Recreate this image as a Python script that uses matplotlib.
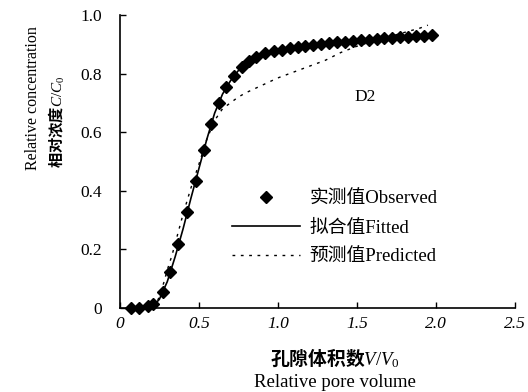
import matplotlib
matplotlib.use("Agg")
import matplotlib.pyplot as plt
from matplotlib.lines import Line2D

plt.rcParams['font.family'] = ['Liberation Serif', 'Noto Sans CJK SC', 'DejaVu Sans']
plt.rcParams['mathtext.fontset'] = 'custom'
plt.rcParams['mathtext.rm'] = 'Liberation Serif'
plt.rcParams['mathtext.it'] = 'Liberation Serif:italic'

# observed breakthrough data (relative pore volume, relative concentration)
obs_x = [0.07, 0.12, 0.175, 0.21, 0.27, 0.32, 0.37, 0.425, 0.48, 0.535, 0.575, 0.625,
         0.675, 0.725, 0.775, 0.82, 0.86, 0.92, 0.975, 1.025, 1.075, 1.125, 1.175,
         1.225, 1.275, 1.325, 1.375, 1.425, 1.475, 1.525, 1.575, 1.625, 1.675, 1.725,
         1.775, 1.825, 1.875, 1.925, 1.975]
obs_y = [0.0, 0.0, 0.008, 0.015, 0.056, 0.124, 0.218, 0.327, 0.434, 0.538, 0.629, 0.70,
         0.753, 0.793, 0.823, 0.842, 0.857, 0.871, 0.876, 0.880, 0.886, 0.892, 0.895,
         0.898, 0.901, 0.904, 0.906, 0.909, 0.911, 0.914, 0.916, 0.918, 0.920, 0.922,
         0.924, 0.926, 0.927, 0.929, 0.931]

fit_x = [0.2, 0.25, 0.3, 0.35, 0.4, 0.45, 0.5, 0.55, 0.6, 0.65, 0.7, 0.75, 0.8, 0.85,
         0.9, 0.95, 1.0, 1.1, 1.2, 1.4, 1.6, 1.8, 2.0]
fit_y = [0.0, 0.03, 0.09, 0.175, 0.27, 0.375, 0.475, 0.575, 0.665, 0.73, 0.775, 0.81,
         0.833, 0.852, 0.864, 0.872, 0.878, 0.887, 0.895, 0.906, 0.916, 0.924, 0.932]

pred_x = [0.22, 0.25, 0.28, 0.3, 0.33, 0.36, 0.4, 0.45, 0.5, 0.55, 0.6, 0.65, 0.7, 0.75,
          0.8, 0.9, 1.0, 1.1, 1.2, 1.3, 1.4, 1.5, 1.6, 1.7, 1.8, 1.9, 1.95]
pred_y = [0.0, 0.04, 0.09, 0.13, 0.18, 0.24, 0.32, 0.41, 0.49, 0.575, 0.64, 0.68, 0.70,
          0.72, 0.735, 0.76, 0.785, 0.805, 0.825, 0.845, 0.872, 0.893, 0.91, 0.925, 0.94,
          0.955, 0.965]

xticks = [0, 0.5, 1.0, 1.5, 2.0, 2.5]
xticklabels = ["0", "0.5", "1.0", "1.5", "2.0", "2.5"]
yticks = [0, 0.2, 0.4, 0.6, 0.8, 1.0]
yticklabels = ["0", "0.2", "0.4", "0.6", "0.8", "1.0"]
labels = ["实测值Observed", "拟合值Fitted", "预测值Predicted"]

fig = plt.figure(figsize=(5.28, 3.92), dpi=100)
ax = fig.add_axes([0.227, 0.214, 0.748, 0.748])

ax.plot(pred_x, pred_y, color='black', lw=1.0, linestyle=(0, (2, 4)))
ax.plot(fit_x, fit_y, color='black', lw=1.2)
ax.plot(obs_x, obs_y, linestyle='', marker='D', color='black', markersize=6, clip_on=False)

ax.set_xlim(0, 2.5)
ax.set_ylim(0, 1.0)
ax.spines['top'].set_visible(False)
ax.spines['right'].set_visible(False)
ax.spines['left'].set_linewidth(1.2)
ax.spines['bottom'].set_linewidth(1.2)
ax.tick_params(direction='in', length=4, width=1.0, labelsize=12.5)
ax.set_xticks(xticks)
ax.set_xticklabels(xticklabels, style='italic')
ax.set_yticks(yticks)
ax.set_yticklabels(yticklabels)
ax.tick_params(axis='x', pad=6)
ax.tick_params(axis='y', pad=13)

ax.text(1.555, 0.72, "D2", fontsize=12.5, ha='center', va='center')

handles = [Line2D([], [], linestyle='', marker='D', color='black', markersize=6),
           Line2D([], [], color='black', lw=1.2),
           Line2D([], [], color='black', lw=1.0, linestyle=(0, (2, 4)))]
ax.legend(handles, labels, frameon=False, fontsize=13.5, handlelength=3.6,
          handletextpad=0.55, labelspacing=0.62, loc='upper left', borderpad=0,
          bbox_to_anchor=(0.284, 0.40), borderaxespad=0)

fig.text(0.063, 0.75, "Relative concentration", rotation=90, fontsize=11.5,
         ha='center', va='center')
fig.text(0.107, 0.69, r"相对浓度$C/C_0$", rotation=90, fontsize=11,
         ha='center', va='center', fontweight='bold', family=['Noto Sans CJK SC'])
fig.text(0.634, 0.087, r"孔隙体积数$V/V_0$", fontsize=13.5, ha='center', va='center',
         fontweight='bold', family=['Noto Sans CJK SC'])
fig.text(0.634, 0.023, "Relative pore volume", fontsize=13.5, ha='center', va='center')

fig.savefig("out.png", dpi=100)
